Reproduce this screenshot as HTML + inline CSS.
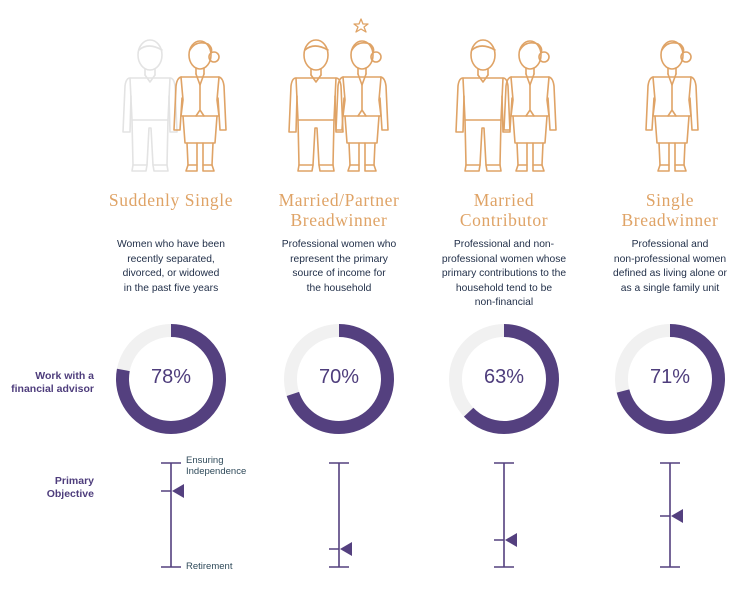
<!DOCTYPE html>
<html><head><style>
body{margin:0;background:#fff;width:740px;height:590px;overflow:hidden;position:relative;font-family:"Liberation Sans",sans-serif}
.t{position:absolute;font-family:"Liberation Serif",serif;color:#dfa366;font-size:17.5px;text-align:center;line-height:20px;width:200px;letter-spacing:0.6px}
.d{position:absolute;color:#1f2d47;font-size:10.3px;text-align:center;line-height:14.6px;width:180px}
.l{position:absolute;color:#4e3d7c;font-weight:bold;font-size:10.5px;text-align:right;line-height:13px}
.p{position:absolute;color:#4e3d7c;font-size:20px;text-align:center;width:100px}
.a{position:absolute;color:#2f4a5a;font-size:9.5px;line-height:11px}
</style></head><body>
<svg width="740" height="590" style="position:absolute;left:0;top:0" fill="none" stroke-linejoin="round" stroke-linecap="round">
<defs>
<g id="man" stroke-width="1.6">
<ellipse cx="0" cy="15" rx="12" ry="15"/>
<path d="M-11,10 Q-2,2 12,10"/>
<path d="M-5,29 L-5,35 M5,29 L5,35"/>
<path d="M-5,35 L0,42 L5,35"/>
<path d="M-20,38 Q-24,38 -25,46 L-27,92 L-20,92 L-19,56"/>
<path d="M20,38 Q24,38 25,46 L27,92 L20,92 L19,56"/>
<path d="M-20,38 L20,38 L18,80 L-18,80 Z"/>
<path d="M-18,80 L-17,125 L-3,125 L-1,88 L1,88 L3,125 L17,125 L18,80"/>
<path d="M-17,125 L-18,131 L-4,131 L-3,125 M3,125 L4,131 L18,131 L17,125"/>
</g>
<g id="wom" stroke-width="1.6">
<ellipse cx="0" cy="15" rx="11" ry="14"/>
<path d="M-10,10 Q-4,0 8,4 Q13,8 11,13"/>
<circle cx="14" cy="17" r="5"/>
<path d="M-4,28 L-4,34 M4,28 L4,34"/>
<path d="M-4,34 L0,45 L4,34"/>
<path d="M-19,37 Q-23,38 -24,46 L-26,90 L-20,90 L-18,58"/>
<path d="M19,37 Q23,38 24,46 L26,90 L20,90 L18,58"/>
<path d="M-19,37 L19,37 L17,60 L19,76 L-19,76 L-17,60 Z"/>
<path d="M-4,76 L0,70 L4,76 M0,45 L0,70"/>
<path d="M-17,76 L-15,103 L15,103 L17,76"/>
<path d="M-13,103 L-12,125 L-3,125 L-3,103 M3,103 L3,125 L12,125 L13,103"/>
<path d="M-12,125 L-14,131 L-3,131 L-3,125 M3,125 L3,131 L14,131 L12,125"/>
</g>
</defs>
<use href="#man" x="150" y="40" stroke="#e3e3e3"/>
<use href="#wom" x="200" y="40" stroke="#dfa366"/>
<use href="#man" x="316" y="40" stroke="#dfa366"/>
<use href="#wom" x="362" y="40" stroke="#dfa366"/>
<path d="M361,19 L363,24 L368,24 L364,27 L366,32 L361,29 L356,32 L358,27 L354,24 L359,24 Z" stroke="#dfa366" stroke-width="1.3"/>
<use href="#man" x="483" y="40" stroke="#dfa366"/>
<use href="#wom" x="530" y="40" stroke="#dfa366"/>
<use href="#wom" x="672" y="40" stroke="#dfa366"/>
<g stroke-width="13" stroke-linecap="butt">
<circle cx="171" cy="379" r="48.5" stroke="#f1f1f1"/>
<circle cx="171" cy="379" r="48.5" stroke="#54407f" pathLength="100" stroke-dasharray="78 100" transform="rotate(-90 171 379)"/>
<circle cx="339" cy="379" r="48.5" stroke="#f1f1f1"/>
<circle cx="339" cy="379" r="48.5" stroke="#54407f" pathLength="100" stroke-dasharray="70 100" transform="rotate(-90 339 379)"/>
<circle cx="504" cy="379" r="48.5" stroke="#f1f1f1"/>
<circle cx="504" cy="379" r="48.5" stroke="#54407f" pathLength="100" stroke-dasharray="63 100" transform="rotate(-90 504 379)"/>
<circle cx="670" cy="379" r="48.5" stroke="#f1f1f1"/>
<circle cx="670" cy="379" r="48.5" stroke="#54407f" pathLength="100" stroke-dasharray="71 100" transform="rotate(-90 670 379)"/>
</g>
<g stroke="#54407f" stroke-width="1.6" stroke-linecap="butt">
<path d="M171,463 V567 M161,463 H181 M161,567 H181 M161,491 H171"/>
<path d="M339,463 V567 M329,463 H349 M329,567 H349 M329,549 H339"/>
<path d="M504,463 V567 M494,463 H514 M494,567 H514 M494,540 H504"/>
<path d="M670,463 V567 M660,463 H680 M660,567 H680 M660,516 H670"/>
</g>
<g fill="#54407f">
<path d="M172,491 L184,484 L184,498 Z"/>
<path d="M340,549 L352,542 L352,556 Z"/>
<path d="M505,540 L517,533 L517,547 Z"/>
<path d="M671,516 L683,509 L683,523 Z"/>
</g>
</svg>
<div class="t" style="left:71px;top:190px">Suddenly Single</div>
<div class="t" style="left:239px;top:190px">Married/Partner<br>Breadwinner</div>
<div class="t" style="left:404px;top:190px">Married<br>Contributor</div>
<div class="t" style="left:570px;top:190px">Single<br>Breadwinner</div>
<div class="d" style="left:81px;top:238px">Women who have been<br>recently separated,<br>divorced, or widowed<br>in the past five years</div>
<div class="d" style="left:249px;top:238px">Professional women who<br>represent the primary<br>source of income for<br>the household</div>
<div class="d" style="left:414px;top:238px">Professional and non-<br>professional women whose<br>primary contributions to the<br>household tend to be<br>non-financial</div>
<div class="d" style="left:580px;top:238px">Professional and<br>non-professional women<br>defined as living alone or<br>as a single family unit</div>
<div class="l" style="right:646px;top:370px">Work with a<br>financial advisor</div>
<div class="l" style="right:646px;top:475px">Primary<br>Objective</div>
<div class="p" style="left:121px;top:366px">78%</div>
<div class="p" style="left:289px;top:366px">70%</div>
<div class="p" style="left:454px;top:366px">63%</div>
<div class="p" style="left:620px;top:366px">71%</div>
<div class="a" style="left:186px;top:455px">Ensuring<br>Independence</div>
<div class="a" style="left:186px;top:561px">Retirement</div>
</body></html>
